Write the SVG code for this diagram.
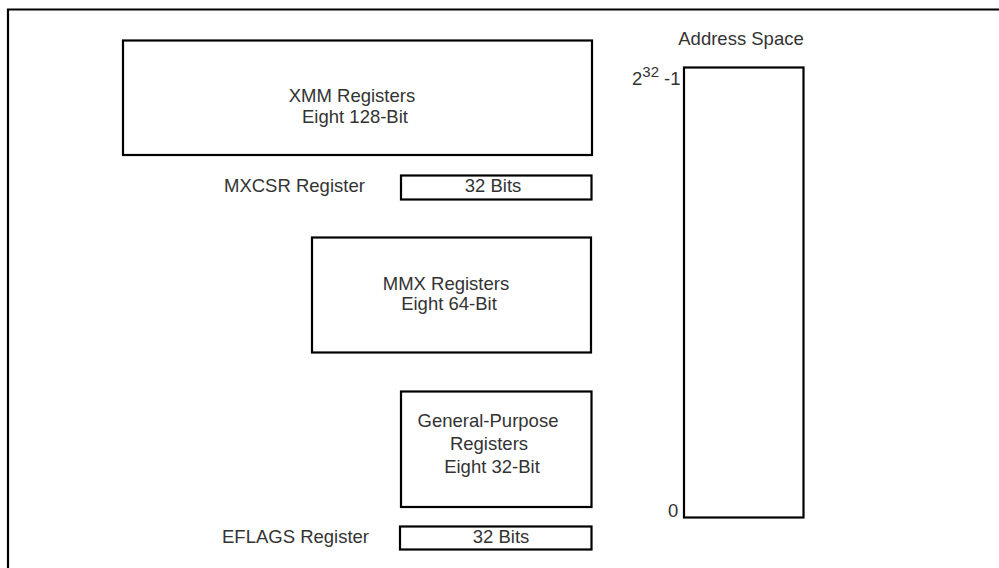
<svg xmlns="http://www.w3.org/2000/svg" width="999" height="568" viewBox="0 0 999 568">
<style>
.box{fill:#fff;stroke:#000;stroke-width:2.2}
.t{font-family:"Liberation Sans",Arial,sans-serif;font-size:18.5px;fill:#333;text-anchor:middle}
.l{font-family:"Liberation Sans",Arial,sans-serif;font-size:18.5px;fill:#333}
</style>
<rect x="0" y="0" width="999" height="568" fill="#fff"/>
<g id="frame"><path d="M8 575 V9.5 H1010" fill="none" stroke="#000" stroke-width="2.2"/></g>
<g id="xmm">
<rect class="box" x="123" y="40.5" width="469" height="114.5"/>
<text class="t" x="352" y="102">XMM Registers</text>
<text class="t" x="355" y="123">Eight 128-Bit</text>
</g>
<g id="mxcsr">
<text class="l" x="224" y="192">MXCSR Register</text>
<rect class="box" x="401" y="175.5" width="190.5" height="24"/>
<text class="t" x="493" y="192">32 Bits</text>
</g>
<g id="mmx">
<rect class="box" x="312" y="237.5" width="279" height="115"/>
<text class="t" x="446" y="290">MMX Registers</text>
<text class="t" x="449" y="310">Eight 64-Bit</text>
</g>
<g id="gp">
<rect class="box" x="401" y="391.5" width="190.5" height="115.5"/>
<text class="t" x="488" y="427">General-Purpose</text>
<text class="t" x="489" y="450">Registers</text>
<text class="t" x="492" y="473">Eight 32-Bit</text>
</g>
<g id="eflags">
<text class="l" x="222" y="543">EFLAGS Register</text>
<rect class="box" x="400" y="526.5" width="191.5" height="23"/>
<text class="t" x="501" y="543">32 Bits</text>
</g>
<g id="address">
<text class="t" x="741" y="45">Address Space</text>
<rect class="box" x="684" y="67.5" width="119.5" height="450"/>
<text class="l" x="632" y="85" font-size="22">2<tspan font-size="15" dy="-8">32</tspan><tspan font-size="18.5" dy="8"> -1</tspan></text>
<text class="l" x="668" y="517">0</text>
</g>
<g id="connectors"></g>
</svg>
